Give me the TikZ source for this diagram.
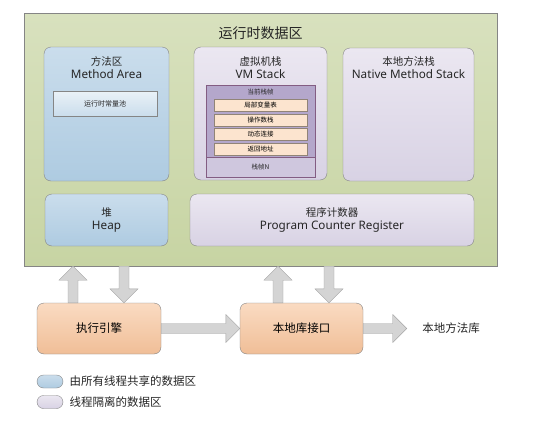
\documentclass[tikz,border=0pt]{standalone}
\usepackage{fontspec}
\setmainfont{Noto Sans CJK SC}
\newfontfamily\latinfont{Noto Sans}
\usetikzlibrary{calc}

\definecolor{greentop}{HTML}{D8E1BE}
\definecolor{greenbot}{HTML}{C7D4A3}
\definecolor{bluetop}{HTML}{CADDEC}
\definecolor{bluebot}{HTML}{AECBE1}
\definecolor{liltop}{HTML}{EBE7F1}
\definecolor{lilbot}{HTML}{D8D2E4}
\definecolor{orangetop}{HTML}{FADBC2}
\definecolor{orangebot}{HTML}{F0BE97}
\definecolor{framedark}{HTML}{B4A7CB}
\definecolor{framelight}{HTML}{CFC7DE}
\definecolor{slot}{HTML}{FCE4CF}
\definecolor{arrowfill}{HTML}{D4D4D4}
\definecolor{arrowline}{HTML}{A3A3A3}
\definecolor{edge}{HTML}{858585}
\definecolor{ink}{HTML}{262626}

\newcommand\blockarrow[2]{%
  \path[blockarrow] let \p1=(#1), \p2=(#2), \p3=($(\p2)!14pt!(\p1)$) in
    ($(\p1)!5pt!90:(\p2)$) -- ($(\p3)!5pt!90:(\p2)$) -- ($(\p3)!14pt!90:(\p2)$) -- (\p2)
    -- ($(\p3)!14pt!-90:(\p2)$) -- ($(\p3)!5pt!-90:(\p2)$) -- ($(\p1)!5pt!-90:(\p2)$) -- cycle;}
\newcommand\eng[1]{{\latinfont\fontsize{11.7}{13}\selectfont #1}}

\begin{document}
\begin{tikzpicture}[x=1pt,y=-1pt,
    box/.style={draw=edge, rounded corners=7pt, inner sep=0pt},
    shared/.style={box, top color=bluetop, bottom color=bluebot},
    private/.style={box, top color=liltop, bottom color=lilbot},
    engine/.style={box, top color=orangetop, bottom color=orangebot, font=\fontsize{11.5}{13}\selectfont},
    slotbox/.style={draw=edge!80!brown, fill=slot, inner sep=0pt, minimum width=93pt, minimum height=12pt,
      font=\fontsize{6.5}{7}\selectfont},
    heading/.style={align=center, text=ink, font=\fontsize{10.5}{13}\selectfont, inner sep=0pt},
    keybox/.style={box, rounded corners=6.5pt, minimum width=26pt, minimum height=13pt},
    blockarrow/.style={draw=arrowline, fill=arrowfill, line join=miter}]
  \useasboundingbox (0,0) rectangle (536,423);
  \fill[white] (0,0) rectangle (536,423);

  %runtime data area
  \node[draw=edge, top color=greentop, bottom color=greenbot, minimum width=473pt, minimum height=253pt,
    inner sep=0pt] (rt) at (260.5,139.5) {};
  \node[text=ink, font=\fontsize{14}{16}\selectfont] (rttitle) at (260.5,33) {运行时数据区};

  %method area
  \node[shared, minimum width=125pt, minimum height=134pt] (method) at (106.5,114) {};
  \node[heading] (methodtxt) at (106.5,68) {方法区\\\eng{Method Area}};
  \node[draw=edge, top color=white!60!bluetop, bottom color=bluetop, minimum width=104pt, minimum height=25pt,
    inner sep=0pt, font=\fontsize{7}{8}\selectfont, text=ink] (pool) at (105,103.5) {运行时常量池};

  %vm stack
  \node[private, minimum width=133pt, minimum height=133pt] (vm) at (260.5,113.5) {};
  \node[heading] (vmtxt) at (260.5,67.5) {虚拟机栈\\\eng{VM Stack}};
  \node[draw=edge!70!violet, fill=framelight, minimum width=109pt, minimum height=92pt, inner sep=0pt] (frame) at (260.5,131) {};
  \node[draw=edge!70!violet, fill=framedark, minimum width=109pt, minimum height=72pt, inner sep=0pt] (cur) at (260.5,121) {};
  \node[font=\fontsize{6.5}{7}\selectfont, text=ink, inner sep=0pt] (curtxt) at (260.5,92) {当前栈帧};
  \node[slotbox] (locals) at (260.5,105) {局部变量表};
  \node[slotbox] (operand) at (260.5,120) {操作数栈};
  \node[slotbox] (dynlink) at (260.5,134) {动态连接};
  \node[slotbox] (ret) at (260.5,149) {返回地址};
  \node[font=\fontsize{6.5}{7}\selectfont, text=ink, inner sep=0pt] (framen) at (260.5,167) {栈帧N};

  %native method stack
  \node[private, minimum width=131pt, minimum height=133pt] (native) at (408.5,114.5) {};
  \node[heading] (nativetxt) at (408.5,68) {本地方法栈\\\eng{Native Method Stack}};

  %heap and pc register
  \node[shared, minimum width=123pt, minimum height=52pt, heading] (heap) at (106.5,220) {堆\\\eng{Heap}};
  \node[private, minimum width=284pt, minimum height=52pt, heading] (pcr) at (332,220)
    {程序计数器\\\eng{Program Counter Register}};

  %engine and native interface
  \node[engine, minimum width=124pt, minimum height=51pt] (exec) at (99,328.5) {执行引擎};
  \node[engine, minimum width=123pt, minimum height=51pt] (jni) at (301.5,328.5) {本地库接口};
  \node[text=ink, font=\fontsize{11.5}{13}\selectfont] (lib) at (451,328.5) {本地方法库};

  \blockarrow{73,0 |- exec.north}{73,0 |- rt.south}
  \blockarrow{124,0 |- rt.south}{124,0 |- exec.north}
  \blockarrow{278,0 |- jni.north}{278,0 |- rt.south}
  \blockarrow{329,0 |- rt.south}{329,0 |- jni.north}
  \blockarrow{exec.east}{jni.west}
  \blockarrow{jni.east}{[xshift=-12pt]lib.west}

  %legend
  \node[keybox, top color=bluetop, bottom color=bluebot] (keyshared) at (50,381.5) {};
  \node[keybox, top color=liltop, bottom color=lilbot] (keyprivate) at (50,402) {};
  \node[anchor=west, text=ink, font=\fontsize{11.5}{13}\selectfont] (keysharedtxt) at (66,381.5) {由所有线程共享的数据区};
  \node[anchor=west, text=ink, font=\fontsize{11.5}{13}\selectfont] (keyprivatetxt) at (66,402) {线程隔离的数据区};
\end{tikzpicture}
\end{document}
